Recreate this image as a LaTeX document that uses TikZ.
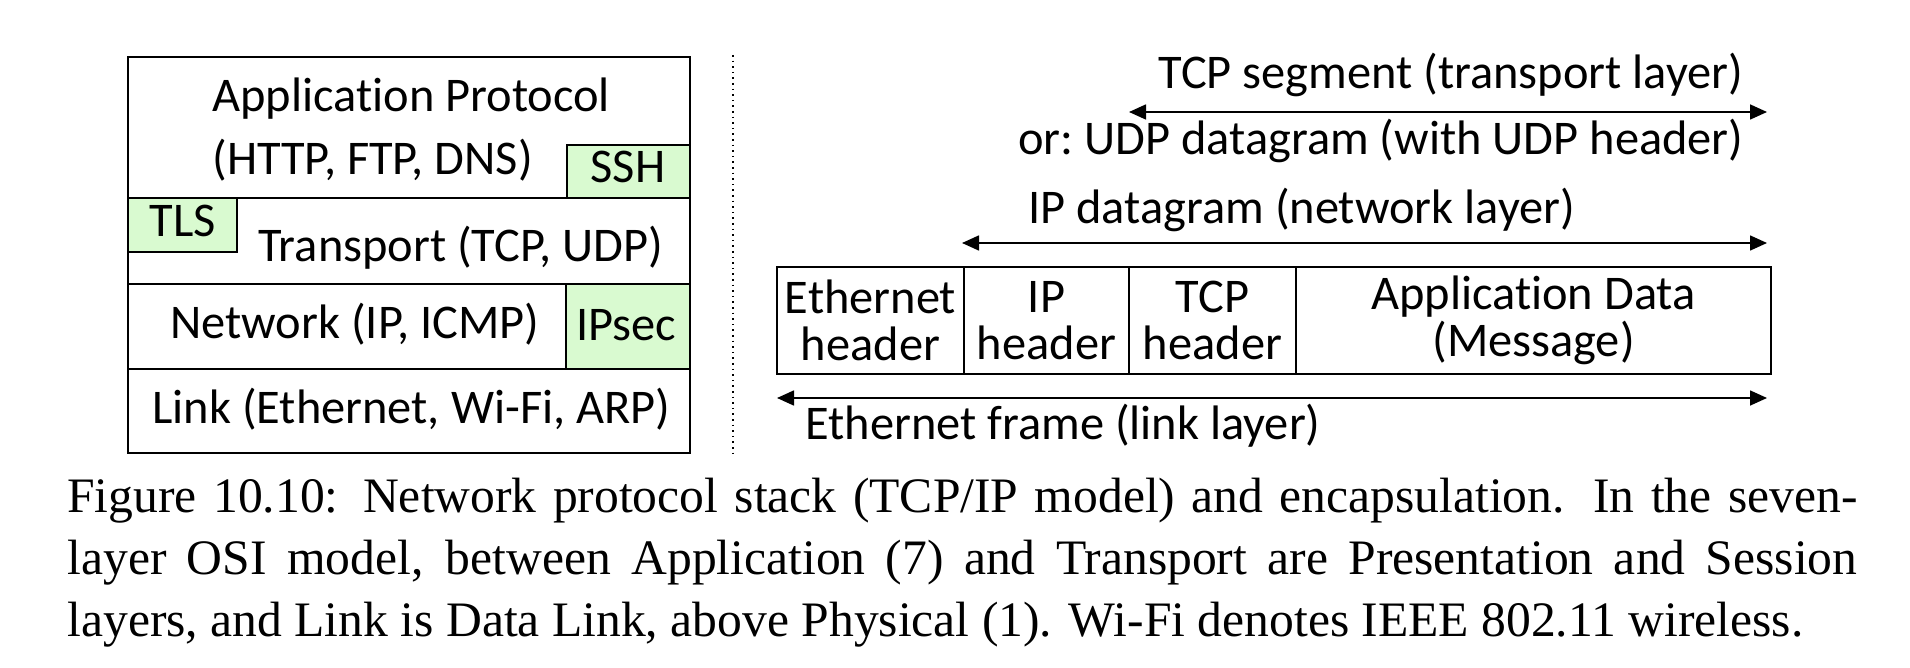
\documentclass[tikz,border=0pt]{standalone}
\usepackage{fontspec}
\setmainfont{Carlito}[Ligatures=NoCommon]
\newfontfamily\capfont{Liberation Serif}
\usetikzlibrary{arrows.meta}
\definecolor{secgreen}{RGB}{217,250,208}

\begin{document}
\begin{tikzpicture}[x=0.5pt, y=-0.5pt,
    lbl/.style={font=\fontsize{24.2}{23.5}\selectfont\frenchspacing, inner sep=0pt},
    cell/.style={draw, line width=0.8pt, outer sep=0pt, inner sep=0pt, align=center, minimum height=53.5pt, anchor=west, font=\fontsize{24.2}{23.5}\selectfont},
    sec/.style={draw, line width=0.8pt, fill=secgreen},
    encarrow/.style={{Triangle[length=8.5pt,width=7.5pt]}-{Triangle[length=8.5pt,width=7.5pt]}, line width=0.8pt}]
    \useasboundingbox (0,0) rectangle (1910,668);

    % protocol stack
    \draw[sec] (567,145) rectangle (690,198);
    \draw[sec] (128,198) rectangle (237,252);
    \draw[sec] (566,284) rectangle (690,369);
    \draw[line width=0.8pt] (128,57) rectangle (690,453);
    \draw[line width=0.8pt] (128,198) -- (690,198) (128,284) -- (690,284) (128,369) -- (690,369);

    \node[lbl, anchor=base west] (appname) at (212,112) {Application Protocol};
    \node[lbl, anchor=base west] (appex) at (212,175) {(HTTP, FTP, DNS)};
    \node[lbl, anchor=base] (ssh) at (628,183) {SSH};
    \node[lbl, anchor=base] (tls) at (183,237) {TLS};
    \node[lbl, anchor=base west] (trans) at (258,262) {Transport (TCP, UDP)};
    \node[lbl, anchor=base west] (net) at (170,338) {Network (IP, ICMP)};
    \node[lbl, anchor=base] (ipsec) at (626,340) {IPsec};
    \node[lbl, anchor=base west] (link) at (152,423) {Link (Ethernet, Wi-Fi, ARP)};

    \draw[dotted, line width=0.8pt] (733,55) -- (733,457);

    % encapsulation
    \node[cell, minimum width=93.5pt] (ethhdr) at (777,320.5) {Ethernet\\header};
    \node[cell, minimum width=82.5pt] (iphdr) at (ethhdr.east) {IP\\header};
    \node[cell, minimum width=83.5pt] (tcphdr) at (iphdr.east) {TCP\\header};
    \node[cell, minimum width=237.5pt] (appdata) at (tcphdr.east) {Application Data\\(Message)};

    \coordinate (segL) at (1129,112);
    \coordinate (segR) at (1767,112);
    \coordinate (dgL) at (962,243);
    \coordinate (dgR) at (1767,243);
    \coordinate (frL) at (777,398);
    \coordinate (frR) at (1767,398);
    \draw[encarrow] (segL) -- (segR);
    \draw[encarrow] (dgL) -- (dgR);
    \draw[encarrow] (frL) -- (frR);

    \node[lbl, anchor=base west] (seglbl) at (1158,89) {TCP segment (transport layer)};
    \node[lbl, anchor=base west] (udplbl) at (1018,155) {or: UDP datagram (with UDP header)};
    \node[lbl, anchor=base west] (dglbl) at (1028,224) {IP datagram (network layer)};
    \node[lbl, anchor=base west] (frlbl) at (805,439) {Ethernet frame (link layer)};

    \node[anchor=north west, inner sep=0pt, text width=895pt, align=justify, font=\capfont\fontsize{24.8}{31}\selectfont] (caption) at (67,478) {Figure 10.10: Network protocol stack (TCP/IP model) and encapsulation. In the seven-\linebreak layer OSI model, between Application (7) and Transport are Presentation and Session\linebreak layers, and Link is Data Link, above Physical (1). Wi-Fi denotes IEEE 802.11 wireless.};
\end{tikzpicture}
\end{document}
